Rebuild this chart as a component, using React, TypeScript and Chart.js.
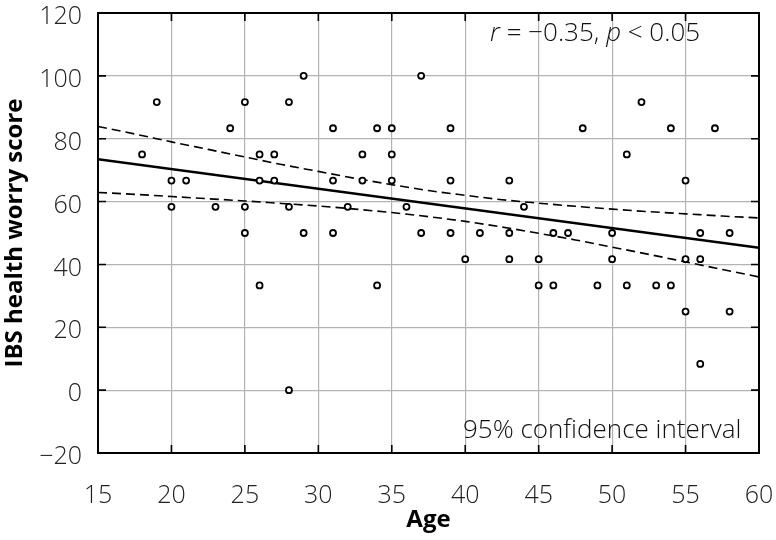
import React, { useEffect, useRef } from "react";
import { Chart, registerables } from "chart.js";

Chart.register(...registerables);

// Scatter data: age (x) and IBS health worry score (y)
const ages = [
  18, 19, 20, 20, 21, 23, 24, 25, 25, 25,
  26, 26, 26, 27, 27, 28, 28, 28, 29, 29,
  31, 31, 31, 32, 33, 33, 34, 34, 35, 35,
  35, 36, 37, 37, 39, 39, 39, 40, 41, 43,
  43, 43, 44, 45, 45, 46, 46, 47, 48, 49,
  50, 50, 51, 51, 52, 53, 54, 54, 55, 55,
  55, 56, 56, 56, 57, 58, 58,
];
const scores = [
  75, 91.67, 66.67, 58.33, 66.67, 58.33, 83.33, 91.67, 58.33, 50,
  75, 66.67, 33.33, 75, 66.67, 91.67, 58.33, 0, 100, 50,
  83.33, 66.67, 50, 58.33, 75, 66.67, 83.33, 33.33, 83.33, 75,
  66.67, 58.33, 100, 50, 83.33, 66.67, 50, 41.67, 50, 66.67,
  50, 41.67, 58.33, 41.67, 33.33, 50, 33.33, 50, 83.33, 33.33,
  50, 41.67, 75, 33.33, 91.67, 33.33, 83.33, 33.33, 66.67, 41.67,
  25, 50, 41.67, 8.33, 83.33, 50, 25,
];

// Regression line
const fitX = [15, 60];
const fitY = [73.45, 45.3];

// 95% confidence band
const ciX = [15, 17.5, 20, 22.5, 25, 27.5, 30, 32.5, 35, 37.5, 40, 42.5, 45, 47.5, 50, 52.5, 55, 57.5, 60];
const ciUpper = [83.9, 81.5, 79.0, 76.6, 74.2, 71.8, 69.6, 67.4, 65.4, 63.5, 62.0, 60.6, 59.5, 58.5, 57.6, 56.8, 56.1, 55.4, 54.8];
const ciLower = [62.9, 62.3, 61.6, 60.9, 60.2, 59.4, 58.6, 57.6, 56.5, 55.2, 53.7, 51.9, 49.9, 47.8, 45.5, 43.2, 40.8, 38.4, 36.0];

const xTicks = [15, 20, 25, 30, 35, 40, 45, 50, 55, 60];
const yTicks = [-20, 0, 20, 40, 60, 80, 100, 120];

const statText = ["r", " = \u22120.35, ", "p", " < 0.05"];
const ciText = "95% confidence interval";
const xTitle = "Age";
const yTitle = "IBS health worry score";

const FONT = "'Open Sans', 'DejaVu Sans', sans-serif";

const framePlugin = {
  id: "frame",
  beforeDatasetsDraw(chart: any) {
    const { ctx, chartArea: a, scales } = chart;
    ctx.save();
    ctx.strokeStyle = "#000";
    ctx.lineWidth = 1.6;
    const tl = 8;
    ctx.beginPath();
    xTicks.forEach((v) => {
      const px = scales.x.getPixelForValue(v);
      ctx.moveTo(px, a.bottom);
      ctx.lineTo(px, a.bottom - tl);
      ctx.moveTo(px, a.top);
      ctx.lineTo(px, a.top + tl);
    });
    yTicks.forEach((v) => {
      const py = scales.y.getPixelForValue(v);
      ctx.moveTo(a.left, py);
      ctx.lineTo(a.left + tl, py);
      ctx.moveTo(a.right, py);
      ctx.lineTo(a.right - tl, py);
    });
    ctx.stroke();
    ctx.lineWidth = 2;
    ctx.strokeRect(a.left, a.top, a.right - a.left, a.bottom - a.top);
    ctx.restore();
  },
  afterDraw(chart: any) {
    const { ctx } = chart;
    ctx.save();
    ctx.fillStyle = "#111";
    ctx.textBaseline = "alphabetic";
    ctx.textAlign = "left";
    let x = 490;
    const y = 41;
    statText.forEach((s, i) => {
      ctx.font = (i % 2 === 0 ? "italic 300 " : "300 ") + "26px " + FONT;
      ctx.fillText(s, x, y);
      x += ctx.measureText(s).width;
    });
    ctx.font = "300 26px " + FONT;
    ctx.fillText(ciText, 463, 438);
    ctx.restore();
  },
};

const zeroPad = (s: any) => {
  s.paddingTop = 0;
  s.paddingBottom = 0;
  s.paddingLeft = 0;
  s.paddingRight = 0;
};

export default function App() {
  const ref = useRef<HTMLCanvasElement>(null);
  useEffect(() => {
    document.body.style.margin = "0";
    const chart = new Chart(ref.current as HTMLCanvasElement, {
      type: "scatter",
      data: {
        datasets: [
          {
            type: "scatter",
            data: ages.map((a, i) => ({ x: a, y: scores[i] })),
            pointRadius: 3,
            pointBorderWidth: 1.8,
            pointBackgroundColor: "#fff",
            pointBorderColor: "#000",
            order: 0,
          } as any,
          {
            type: "line",
            data: fitX.map((x, i) => ({ x, y: fitY[i] })),
            borderColor: "#000",
            borderWidth: 2.6,
            pointRadius: 0,
            order: 1,
          },
          {
            type: "line",
            data: ciX.map((x, i) => ({ x, y: ciUpper[i] })),
            borderColor: "#000",
            borderWidth: 1.6,
            borderDash: [9, 5],
            pointRadius: 0,
            cubicInterpolationMode: "monotone",
            order: 2,
          },
          {
            type: "line",
            data: ciX.map((x, i) => ({ x, y: ciLower[i] })),
            borderColor: "#000",
            borderWidth: 1.6,
            borderDash: [9, 5],
            pointRadius: 0,
            cubicInterpolationMode: "monotone",
            order: 3,
          },
        ],
      },
      options: {
        responsive: false,
        animation: false,
        layout: { padding: { left: 0, top: 13, right: 17, bottom: 0 } },
        plugins: { legend: { display: false }, tooltip: { enabled: false } },
        scales: {
          x: {
            type: "linear",
            min: 15,
            max: 60,
            afterBuildTicks: (s: any) => {
              s.ticks = xTicks.map((v) => ({ value: v }));
            },
            ticks: {
              padding: 28,
              color: "#222",
              font: { family: FONT, size: 25, weight: "300" as any },
            },
            grid: { color: "#b3b3b3", lineWidth: 1.2, drawTicks: false },
            border: { display: false },
            title: {
              display: true,
              text: xTitle,
              color: "#000",
              font: { family: FONT, size: 24, weight: "bold" },
              padding: { top: 0, bottom: 5 },
            },
            afterFit: (s: any) => {
              s.height = 87;
              zeroPad(s);
            },
          },
          y: {
            type: "linear",
            min: -20,
            max: 120,
            afterBuildTicks: (s: any) => {
              s.ticks = yTicks.map((v) => ({ value: v }));
            },
            ticks: {
              padding: 16,
              labelOffset: 4,
              color: "#222",
              font: { family: FONT, size: 25, weight: "300" as any },
              callback: (v: any) => (v < 0 ? "\u2212" + Math.abs(v) : String(v)),
            },
            grid: { color: "#b3b3b3", lineWidth: 1.2, drawTicks: false },
            border: { display: false },
            title: {
              display: true,
              text: yTitle,
              color: "#000",
              font: { family: FONT, size: 24, weight: "bold" },
              padding: { top: 1, bottom: 0 },
            },
            afterFit: (s: any) => {
              s.width = 98;
              zeroPad(s);
            },
          },
        },
      },
      plugins: [framePlugin],
    });
    return () => chart.destroy();
  }, []);
  return (
    <div style={{ position: "fixed", left: 0, top: 0, width: 776, height: 540, background: "#fff" }}>
      <canvas ref={ref} width={776} height={540} style={{ display: "block" }} />
    </div>
  );
}
